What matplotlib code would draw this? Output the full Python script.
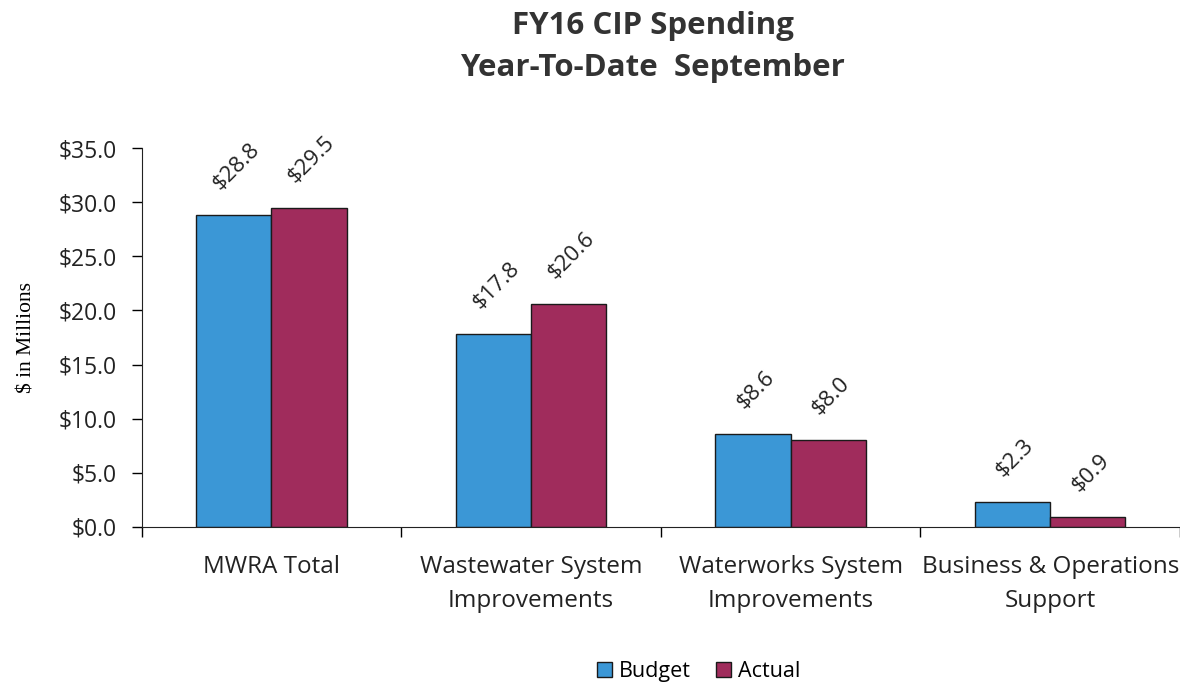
import matplotlib.pyplot as plt
import numpy as np

# CIP spending by program, $ millions, year-to-date
categories = ["MWRA Total", "Wastewater System\nImprovements",
              "Waterworks System\nImprovements", "Business & Operations\nSupport"]
budget = [28.8, 17.8, 8.6, 2.3]
actual = [29.5, 20.6, 8.0, 0.9]
yticks = [0, 5, 10, 15, 20, 25, 30, 35]

blue = "#3b97d6"
maroon = "#a02c5c"
font = "Open Sans"

fig = plt.figure(figsize=(11.8, 6.86), dpi=100)
ax = fig.add_axes([0.120, 0.232, 0.880, 0.552])

x = np.arange(len(categories))
w = 0.29
b1 = ax.bar(x - w / 2, budget, w, color=blue, edgecolor="#1a1a1a", linewidth=1, label="Budget")
b2 = ax.bar(x + w / 2, actual, w, color=maroon, edgecolor="#1a1a1a", linewidth=1, label="Actual")

# rotated value labels above each bar
for bars, vals in ((b1, budget), (b2, actual)):
    for r, v in zip(bars, vals):
        ax.annotate(f"${v:.1f}", (r.get_x() + r.get_width() / 2, v),
                    xytext=(2, 15), textcoords="offset points",
                    rotation=45, ha="center", va="bottom", fontsize=16,
                    family=font, color="#222222")

ax.set_xlim(-0.5, len(categories) - 0.5)
ax.set_ylim(0, 35)
ax.set_yticks(yticks)
ax.set_yticklabels([f"${t:.1f}" for t in yticks], family=font, fontsize=16.5,
                   color="#222222")
ax.set_xticks(x)
ax.set_xticklabels(categories, family=font, fontsize=17.5, color="#222222",
                   linespacing=1.6)
ax.tick_params(axis="x", length=0, pad=20)
ax.tick_params(axis="y", length=7, width=1, pad=11)
ax.set_xticks(np.arange(len(categories) + 1) - 0.5, minor=True)
ax.tick_params(axis="x", which="minor", length=7, width=1)

for s in ("top", "right"):
    ax.spines[s].set_visible(False)
ax.spines["left"].set_color("#222222")
ax.spines["bottom"].set_color("#222222")

ax.set_ylabel("$ in Millions", family="Liberation Serif", fontsize=15.5, labelpad=16)

fig.text(0.553, 0.962, "FY16 CIP Spending", ha="center", va="center",
         fontsize=22.5, fontweight="bold", family=font, color="#333333")
fig.text(0.553, 0.901, "Year-To-Date  September", ha="center", va="center",
         fontsize=22.5, fontweight="bold", family=font, color="#333333")

fig.legend(handles=[b1, b2], labels=["Budget", "Actual"], loc="center",
           bbox_to_anchor=(0.592, 0.021), ncol=2, frameon=False,
           prop={"family": font, "size": 15.5}, handlelength=0.7,
           handleheight=0.7, columnspacing=1.2, handletextpad=0.3)

fig.savefig("out.png", dpi=100)
